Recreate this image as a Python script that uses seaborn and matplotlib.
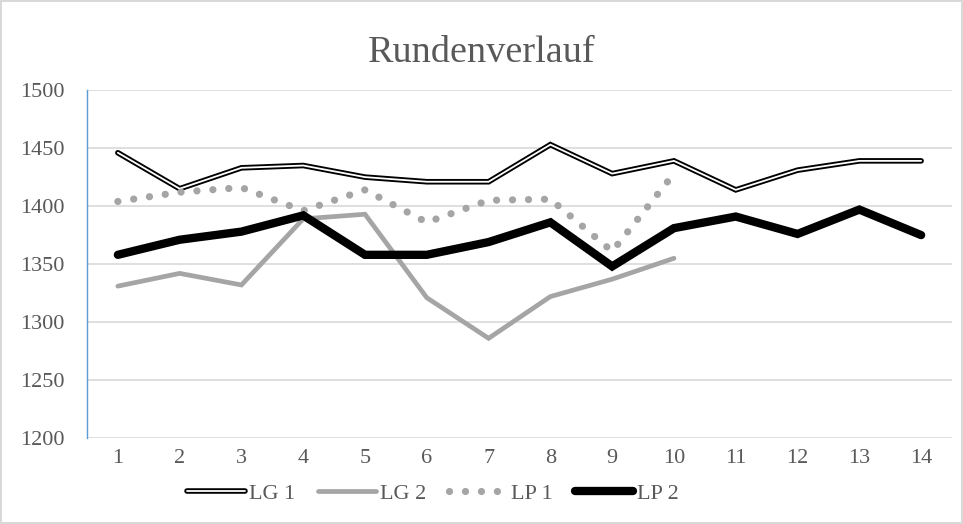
import numpy as np
import pandas as pd
import matplotlib
matplotlib.use('Agg')
import matplotlib.pyplot as plt
import matplotlib.patheffects as pe
import seaborn as sns

# lap numbers and lap times per driver
laps = list(range(1, 15))
lg1 = [1446, 1415, 1433, 1435, 1425, 1421, 1421, 1453, 1428, 1439, 1414, 1431, 1439, 1439]
lg2 = [1331, 1342, 1332, 1389, 1393, 1321, 1286, 1322, 1337, 1355, np.nan, np.nan, np.nan, np.nan]
lp1 = [1404, 1412, 1416, 1396, 1414, 1386, 1405, 1406, 1361, 1428, np.nan, np.nan, np.nan, np.nan]
lp2 = [1358, 1371, 1378, 1392, 1358, 1358, 1369, 1386, 1348, 1381, 1391, 1376, 1397, 1375]
y_ticks = [1200, 1250, 1300, 1350, 1400, 1450, 1500]

sns.set_theme(style='white')
plt.rcParams['font.family'] = ['Liberation Serif', 'DejaVu Serif']

df = pd.DataFrame({'Runde': laps, 'LG 1': lg1, 'LG 2': lg2, 'LP 1': lp1, 'LP 2': lp2})

fig = plt.figure(figsize=(9.63, 5.24), dpi=100)
fig.patch.set_edgecolor('#D9D9D9')
fig.patch.set_linewidth(1.5)
ax = fig.add_axes([0.0903, 0.164, 0.8983, 0.664])

gray = '#A5A5A5'
sns.lineplot(data=df, x='Runde', y='LG 1', ax=ax, color='white', linewidth=1.3, label='LG 1',
             path_effects=[pe.Stroke(linewidth=4.0, foreground='black', capstyle='round'), pe.Normal()])
sns.lineplot(data=df, x='Runde', y='LG 2', ax=ax, color=gray, linewidth=3.4, label='LG 2')
sns.lineplot(data=df, x='Runde', y='LP 1', ax=ax, color=gray, linewidth=5.2, label='LP 1')
sns.lineplot(data=df, x='Runde', y='LP 2', ax=ax, color='black', linewidth=6.0, label='LP 2')

# dotted style with round dots for LP 1, round ends elsewhere
lines = ax.get_lines()
for ln in lines:
    ln.set_solid_capstyle('round')
    ln.set_solid_joinstyle('miter')
lines[2].set_linestyle((0, (0.01, 2.2)))
lines[2].set_dash_capstyle('round')

ax.set_xlim(0.5, 14.5)
ax.set_ylim(1200, 1500)
ax.set_xticks(laps)
ax.set_yticks(y_ticks)
ax.grid(axis='y', color='#D9D9D9', lw=1.2)
ax.set_axisbelow(True)
ax.tick_params(axis='both', length=0, labelsize=16, labelcolor='#595959', pad=8)
ax.tick_params(axis='y', pad=16)
for s in ['top', 'right', 'bottom']:
    ax.spines[s].set_visible(False)
ax.spines['left'].set_color('#5B9BD5')
ax.spines['left'].set_linewidth(1.0)
ax.set_xlabel('')
ax.set_ylabel('')

fig.text(0.5, 0.899, 'Rundenverlauf', ha='center', va='center', fontsize=27.5, color='#595959')

ax.legend(loc='center', bbox_to_anchor=(0.40, -0.16), ncol=4, frameon=False, fontsize=16,
          handlelength=2.6, handletextpad=0.2, columnspacing=1.0, labelcolor='#595959')

fig.savefig('out.png', dpi=100)
